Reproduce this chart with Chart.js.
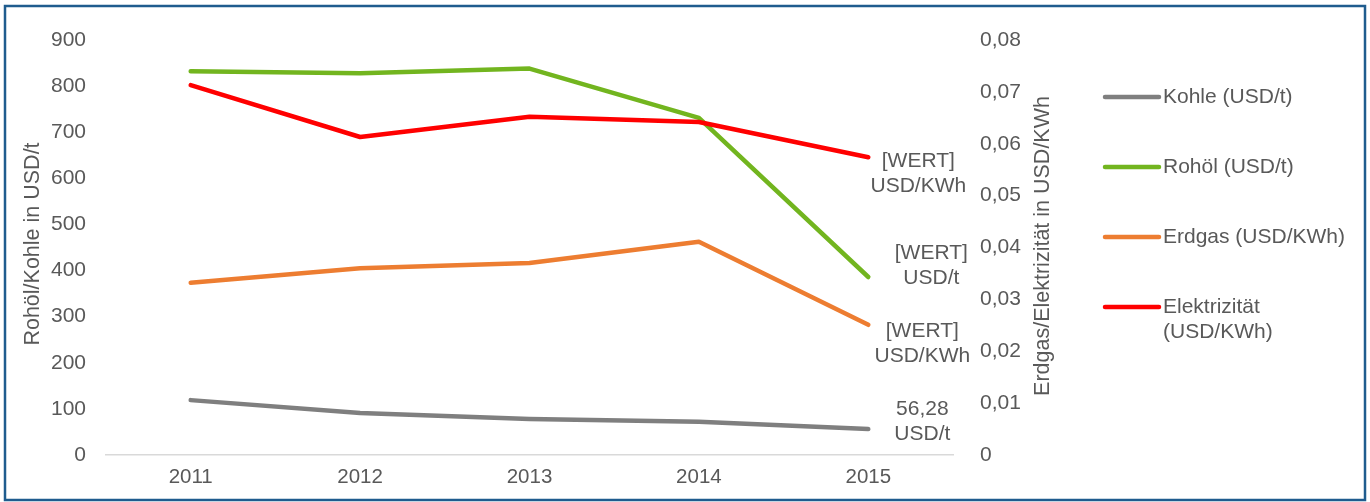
<!DOCTYPE html>
<html>
<head>
<meta charset="utf-8">
<script src="https://cdn.jsdelivr.net/npm/chart.js@4/dist/chart.umd.min.js"></script>
<style>
  html, body { margin: 0; padding: 0; background: #ffffff; }
  #wrap { position: relative; width: 1370px; height: 502px; }
</style>
</head>
<body>
<div id="wrap"><canvas id="c"></canvas></div>
<script>
// ---- data ----
const years = ['2011', '2012', '2013', '2014', '2015'];
const kohle = [119, 91, 78, 72, 56.28];
const rohoel = [832, 828, 838, 731, 386];
const erdgas = [0.0332, 0.0360, 0.0370, 0.0411, 0.0251];
const elektrizitaet = [0.0713, 0.0613, 0.0652, 0.0642, 0.0574];
const seriesNames = ['Kohle (USD/t)', 'Rohöl (USD/t)', 'Erdgas (USD/KWh)', 'Elektrizität (USD/KWh)'];
const legendLines = [['Kohle (USD/t)'], ['Rohöl (USD/t)'], ['Erdgas (USD/KWh)'], ['Elektrizität', '(USD/KWh)']];
const endLabels = [['56,28', 'USD/t'], ['[WERT]', 'USD/t'], ['[WERT]', 'USD/KWh'], ['[WERT]', 'USD/KWh']];
const leftTicksMax = 900, leftStep = 100;
const rightTicksMax = 0.08, rightStep = 0.01;
const leftTitle = 'Rohöl/Kohle in USD/t';
const rightTitle = 'Erdgas/Elektrizität in USD/KWh';

// ---- style ----
const FONT = '"Liberation Sans", Arial, sans-serif';
const TXT = '#595959';
const colors = ['#7F7F7F', '#72B51F', '#ED7D31', '#FF0000'];
const labelOffsets = [[54, -20], [63, -24], [54, 6], [50, 4]]; // dx, dy of first line (px)

const datasets = [
  { label: seriesNames[0], data: kohle, yAxisID: 'yL' },
  { label: seriesNames[1], data: rohoel, yAxisID: 'yL' },
  { label: seriesNames[2], data: erdgas, yAxisID: 'yR' },
  { label: seriesNames[3], data: elektrizitaet, yAxisID: 'yR' }
].map((d, i) => Object.assign(d, {
  borderColor: colors[i], backgroundColor: colors[i], borderWidth: 4.5,
  pointRadius: 0, tension: 0, borderCapStyle: 'round', borderJoinStyle: 'round', fill: false
}));
datasets[0].order = 4; datasets[1].order = 3; datasets[2].order = 2; datasets[3].order = 1;

const extras = {
  id: 'extras',
  beforeDraw(chart) {
    const ctx = chart.ctx;
    ctx.save();
    ctx.fillStyle = '#fff';
    ctx.fillRect(0, 0, chart.width, chart.height);
    ctx.restore();
  },
  afterDraw(chart) {
    const ctx = chart.ctx;
    const ca = chart.chartArea;
    ctx.save();
    ctx.font = '21px ' + FONT;
    ctx.fillStyle = TXT;
    ctx.textAlign = 'center';
    ctx.textBaseline = 'middle';
    // end labels
    chart.data.datasets.forEach((ds, i) => {
      const meta = chart.getDatasetMeta(i);
      const pt = meta.data[meta.data.length - 1];
      const [dx, dy] = labelOffsets[i];
      endLabels[i].forEach((t, k) => ctx.fillText(t, pt.x + dx, pt.y + dy + k * 25));
    });
    // axis titles
    ctx.font = '21.5px ' + FONT;
    [[33, 244, leftTitle], [1043, 246, rightTitle]].forEach(([x, y, t]) => {
      ctx.save();
      ctx.translate(x, y);
      ctx.rotate(-Math.PI / 2);
      ctx.fillText(t, 0, 0);
      ctx.restore();
    });
    // legend
    ctx.font = '21px ' + FONT;
    const ly = [97, 167, 237, 307];
    ctx.textAlign = 'left';
    chart.data.datasets.forEach((ds, i) => {
      ctx.strokeStyle = ds.borderColor;
      ctx.lineWidth = 4.5;
      ctx.lineCap = 'round';
      ctx.beginPath();
      ctx.moveTo(1105, ly[i]);
      ctx.lineTo(1159, ly[i]);
      ctx.stroke();
      legendLines[i].forEach((t, k) => ctx.fillText(t, 1163, ly[i] + k * 25));
    });
    // frame
    ctx.strokeStyle = '#1F5C8E';
    ctx.lineWidth = 2.5;
    ctx.strokeRect(5, 6, 1360, 494);
    ctx.restore();
  }
};

new Chart(document.getElementById('c'), {
  type: 'line',
  data: { labels: years, datasets },
  plugins: [extras],
  options: {
    responsive: true,
    maintainAspectRatio: false,
    animation: false,
    layout: { padding: { left: 0, right: 320, top: 40, bottom: 0 } },
    plugins: { legend: { display: false }, tooltip: { enabled: false } },
    scales: {
      x: {
        offset: true,
        grid: { display: false, drawTicks: false },
        border: { display: true, color: '#D9D9D9', width: 1.5 },
        ticks: { color: TXT, font: { family: FONT, size: 20.5 }, padding: 10 },
        afterFit(a) { a.height = 47; }
      },
      yL: {
        position: 'left', min: 0, max: leftTicksMax,
        grid: { display: false, drawTicks: false },
        border: { display: false },
        ticks: { stepSize: leftStep, color: TXT, font: { family: FONT, size: 21 }, padding: 20 },
        afterFit(a) { a.width = 106; }
      },
      yR: {
        position: 'right', min: 0, max: rightTicksMax,
        grid: { display: false, drawTicks: false },
        border: { display: false },
        ticks: {
          stepSize: rightStep, color: TXT, font: { family: FONT, size: 21 }, padding: 27,
          callback: v => (Math.abs(v) < 1e-9 ? '0' : v.toFixed(2).replace('.', ','))
        },
        afterFit(a) { a.width = 97; }
      }
    }
  }
});
</script>
</body>
</html>
